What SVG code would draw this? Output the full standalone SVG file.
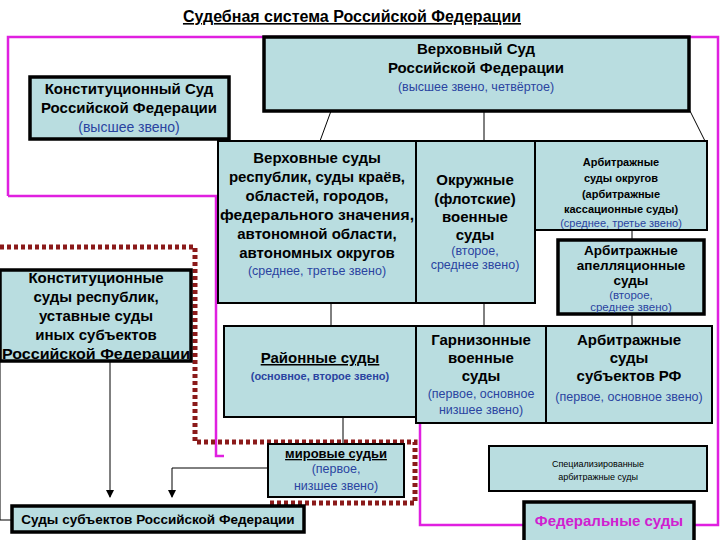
<svg xmlns="http://www.w3.org/2000/svg" width="720" height="540" viewBox="0 0 720 540">
<style>
text{font-family:"Liberation Sans",Arial,sans-serif;text-anchor:middle;fill:#000}
.b{fill:#b9dde0;stroke:#000;stroke-width:2}
.t{fill:#b9dde0;stroke:#000;stroke-width:3.5}
.h{font-weight:bold;font-size:15px}
.s{font-size:12.5px;fill:#2a44a0}
.l{stroke:#000;stroke-width:1;fill:none}
</style>
<defs><marker id="a" markerWidth="8" markerHeight="8" refX="7" refY="4" orient="auto"><path d="M0,0 L8,4 L0,8z" fill="#000"/></marker></defs>
<rect width="720" height="540" fill="#fff"/>
<text x="352" y="22" style="font-weight:bold;font-size:16px;text-decoration:underline">Судебная система Российской Федерации</text>
<path d="M8,196 V37 H718 V525 H694 M524,525 H420 V423 M8,196 H216 V456 H224" stroke="#e020e0" stroke-width="2.5" fill="none"/>
<path d="M0,247 H195 V442 H415 V503 H268" stroke="#8b1a1a" stroke-width="5" stroke-dasharray="4,3" fill="none"/>
<g id="connectors">
<path class="l" d="M331,111 L320,141 M484,111 V141 M690,111 L705,141 M331,303 V326 M484,303 V326 M632,230 V240 M632,314 V326 M343,417 V444"/>
<path class="l" d="M268,468 H172 V497" marker-end="url(#a)"/>
<path class="l" d="M110,361 V497" marker-end="url(#a)"/>
<path class="l" d="M0,361 V520 H12"/>
</g>
<g id="vs"><rect class="t" x="264" y="37" width="425" height="74"/>
<text class="h" x="476" y="54">Верховный Суд</text><text class="h" x="476" y="73">Российской Федерации</text><text class="s" x="476" y="91">(высшее звено, четвёртое)</text></g>
<g id="ks"><rect class="t" x="30" y="77" width="199" height="62"/>
<text class="h" x="129" y="94">Конституционный Суд</text><text class="h" x="129" y="113">Российской Федерации</text><text class="s" x="129" y="132" style="font-size:14px">(высшее звено)</text></g>
<g id="vsr"><rect class="b" x="218" y="141" width="198" height="162"/>
<text class="h" x="317" y="163">Верховные суды</text><text class="h" x="317" y="182">республик, суды краёв,</text><text class="h" x="317" y="201">областей, городов,</text><text class="h" x="317" y="220" textLength="194" lengthAdjust="spacingAndGlyphs">федерального значения,</text><text class="h" x="317" y="239">автономной области,</text><text class="h" x="317" y="258">автономных округов</text><text class="s" x="317" y="275">(среднее, третье звено)</text></g>
<g id="ok"><rect class="b" x="416" y="141" width="119" height="162"/>
<text class="h" x="475" y="185">Окружные</text><text class="h" x="475" y="204">(флотские)</text><text class="h" x="475" y="222">военные</text><text class="h" x="475" y="240">суды</text><text class="s" x="475" y="255">(второе,</text><text class="s" x="475" y="269">среднее звено)</text></g>
<g id="ao"><rect class="b" x="535" y="141" width="172" height="89"/>
<text x="621" y="166" style="font-size:11px;font-weight:bold">Арбитражные</text><text x="621" y="182" style="font-size:11px;font-weight:bold">суды округов</text><text x="621" y="198" style="font-size:11px;font-weight:bold">(арбитражные</text><text x="621" y="213" style="font-size:11px;font-weight:bold">кассационные суды)</text><text class="s" x="621" y="227" style="font-size:11px">(среднее, третье звено)</text></g>
<g id="aa"><rect class="t" x="558" y="240" width="146" height="74"/>
<text class="h" x="631" y="255" style="font-size:13.5px">Арбитражные</text><text class="h" x="631" y="270" style="font-size:13.5px">апелляционные</text><text class="h" x="631" y="285" style="font-size:13.5px">суды</text><text class="s" x="631" y="299" style="font-size:11.5px">(второе,</text><text class="s" x="631" y="311" style="font-size:11.5px">среднее звено)</text></g>
<g id="kr"><rect class="t" x="0" y="270" width="191" height="91"/>
<text class="h" x="96" y="283">Конституционные</text><text class="h" x="96" y="302">суды республик,</text><text class="h" x="96" y="321">уставные суды</text><text class="h" x="96" y="340">иных субъектов</text><text class="h" x="96" y="359" textLength="188" lengthAdjust="spacingAndGlyphs">Российской Федерации</text></g>
<g id="rs"><rect class="b" x="224" y="326" width="192" height="91"/>
<text class="h" x="320" y="363" style="text-decoration:underline">Районные суды</text><text x="320" y="380" style="font-size:11px;font-weight:bold;fill:#2a44a0">(основное, второе звено)</text></g>
<g id="gs"><rect class="b" x="416" y="326" width="130" height="97"/>
<text class="h" x="481" y="345">Гарнизонные</text><text class="h" x="481" y="363">военные</text><text class="h" x="481" y="381">суды</text><text class="s" x="481" y="398">(первое, основное</text><text class="s" x="481" y="414">низшее звено)</text></g>
<g id="as"><rect class="b" x="546" y="326" width="166" height="97"/>
<text class="h" x="629" y="345">Арбитражные</text><text class="h" x="629" y="363">суды</text><text class="h" x="629" y="381">субъектов РФ</text><text class="s" x="629" y="401">(первое, основное звено)</text></g>
<g id="ms"><rect class="b" x="268" y="444" width="136" height="53"/>
<text x="336" y="458" style="font-size:13px;font-weight:bold;text-decoration:underline">мировые судьи</text><text class="s" x="336" y="473">(первое,</text><text class="s" x="336" y="490">низшее звено)</text></g>
<g id="ss"><rect class="t" x="12" y="506" width="292" height="26"/>
<text class="h" x="158" y="524" style="font-size:13.5px">Суды субъектов Российской Федерации</text></g>
<g id="sp"><rect class="b" x="489" y="446" width="218" height="45"/>
<text x="598" y="467" style="font-size:9px">Специализированные</text><text x="598" y="480" style="font-size:9px">арбитражные суды</text></g>
<g id="fs"><rect class="t" x="524" y="502" width="170" height="40"/>
<text x="609" y="526" style="font-size:15px;font-weight:bold;fill:#d020d0">Федеральные суды</text></g>
</svg>
